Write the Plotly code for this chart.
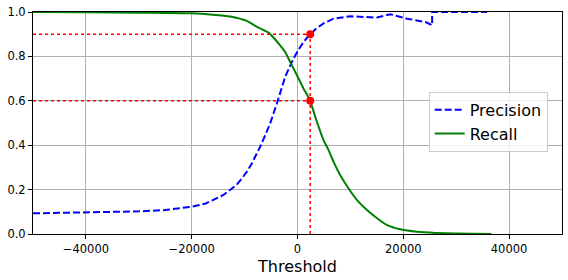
import plotly.graph_objects as go

# Precision curve (threshold, value)
prec_thresholds = [-50000, -40000, -30000, -25000, -20000, -17500, -15900, -14000, -12750,
                   -11500, -10530, -9500, -8640, -7800, -7060, -6100, -5170, -3900, -3100,
                   -2330, -1500, -760, 200, 1140, 2400, 3670, 5000, 6820, 9980, 13140,
                   15000, 17560, 20720, 24190, 25450, 25450, 35870]
precision = [0.093, 0.096, 0.102, 0.108, 0.123, 0.136, 0.153, 0.176, 0.198,
             0.222, 0.25, 0.283, 0.318, 0.355, 0.393, 0.445, 0.498, 0.588, 0.65,
             0.708, 0.752, 0.79, 0.83, 0.865, 0.9, 0.928, 0.95, 0.97, 0.981, 0.978,
             0.975, 0.99, 0.97, 0.955, 0.94, 1.0, 1.0]

# Recall curve (threshold, value)
rec_thresholds = [-50000, -40000, -30000, -20000, -16000, -12750, -9580, -7820, -5490,
                  -3280, -2330, -1380, -110, 1140, 2400, 3350, 4920, 5870, 6820, 8090,
                  9660, 11250, 13140, 15040, 16930, 19450, 22610, 26000, 30000, 36630]
recall = [1.0, 0.999, 0.997, 0.994, 0.988, 0.98, 0.96, 0.935, 0.907,
          0.85, 0.82, 0.775, 0.715, 0.655, 0.6, 0.528, 0.423, 0.378, 0.325, 0.265,
          0.205, 0.153, 0.108, 0.071, 0.04, 0.021, 0.01, 0.005, 0.002, 0.0]

threshold_90_precision = 2400
precision_90 = 0.9
recall_90_precision = 0.6
x_min, x_max = -50000, 50000
x_ticks = [-40000, -20000, 0, 20000, 40000]
y_ticks = [0, 0.2, 0.4, 0.6, 0.8, 1.0]

fig = go.Figure()
fig.add_trace(go.Scatter(x=prec_thresholds, y=precision, mode="lines", name="Precision",
                         line=dict(color="blue", width=2, dash="7px,3px")))
fig.add_trace(go.Scatter(x=rec_thresholds, y=recall, mode="lines", name="Recall",
                         line=dict(color="green", width=2, shape="spline", smoothing=0.6)))
# red dotted guide lines
dot = dict(color="red", width=1.5, dash="dot")
fig.add_trace(go.Scatter(x=[threshold_90_precision, threshold_90_precision], y=[0, precision_90],
                         mode="lines", line=dot, showlegend=False))
fig.add_trace(go.Scatter(x=[x_min, threshold_90_precision], y=[precision_90, precision_90],
                         mode="lines", line=dot, showlegend=False))
fig.add_trace(go.Scatter(x=[x_min, threshold_90_precision], y=[recall_90_precision, recall_90_precision],
                         mode="lines", line=dot, showlegend=False))
fig.add_trace(go.Scatter(x=[threshold_90_precision, threshold_90_precision],
                         y=[precision_90, recall_90_precision], mode="markers",
                         marker=dict(color="red", size=8), showlegend=False))

axis_common = dict(showline=True, linecolor="black", linewidth=1, mirror=True,
                   showgrid=True, gridcolor="#b0b0b0", gridwidth=0.8,
                   ticks="outside", ticklen=4, tickcolor="black", zeroline=False,
                   tickfont=dict(size=11.5, color="black"))
fig.update_xaxes(range=[x_min, x_max], tickmode="array", tickvals=x_ticks,
                 ticktext=[("\u2212" if v < 0 else "") + str(abs(v)) for v in x_ticks],
                 title=dict(text="Threshold", font=dict(size=16, color="black"), standoff=6),
                 **axis_common)
fig.update_yaxes(range=[0, 1], tickmode="array", tickvals=y_ticks, tickformat=".1f",
                 **axis_common)
fig.update_layout(width=568, height=280, margin=dict(l=33, r=6, t=12, b=46),
                  plot_bgcolor="white", paper_bgcolor="white",
                  font=dict(family="DejaVu Sans", color="black"),
                  legend=dict(x=0.748, y=0.64, xanchor="left", yanchor="top",
                              bgcolor="rgba(255,255,255,0.8)", bordercolor="#cccccc",
                              borderwidth=1, font=dict(size=16)))
fig.write_html("out.html")
